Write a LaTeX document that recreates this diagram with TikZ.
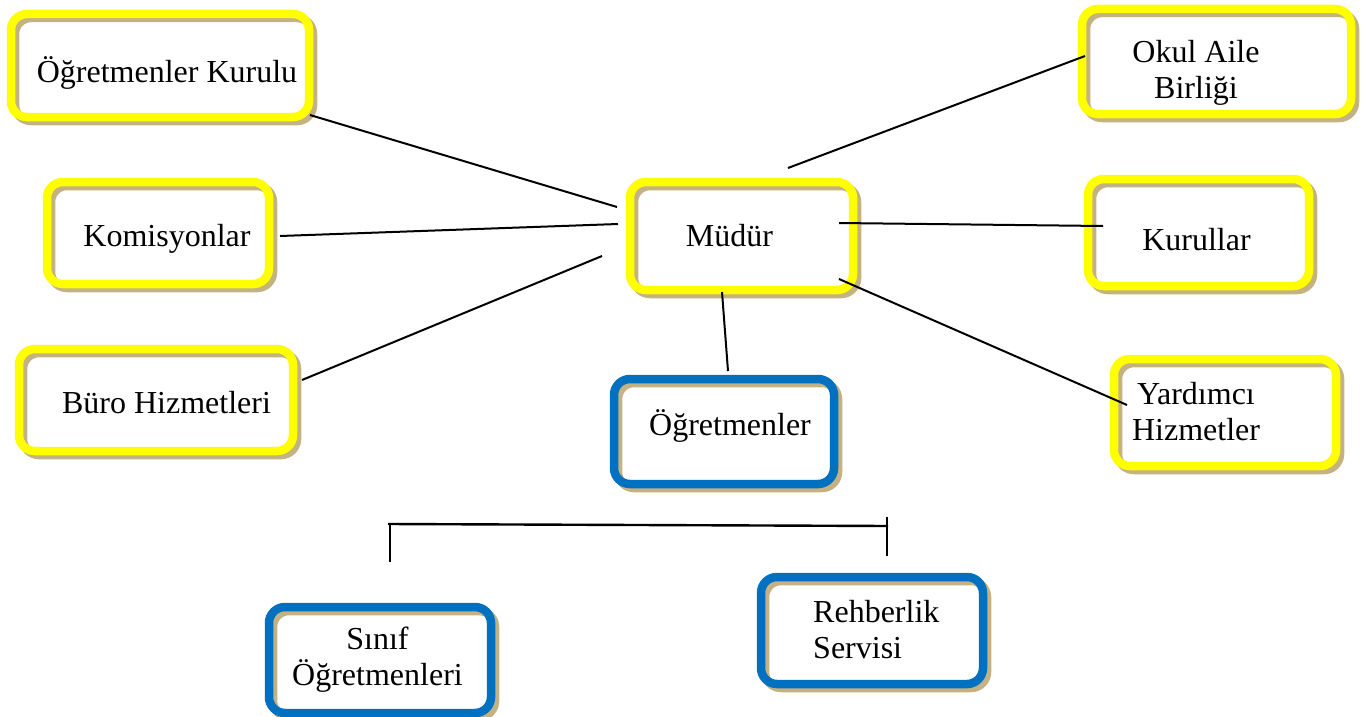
\documentclass[tikz,border=0pt]{standalone}
\usepackage{fontspec}
\setmainfont{Liberation Serif}

\definecolor{boxyellow}{HTML}{FFFF00}
\definecolor{boxblue}{HTML}{0070C0}
\definecolor{shadowtan}{HTML}{C4B283}

\tikzset{
  panel/.style={draw=#1, line width=8.5pt, rounded corners=16pt, inner sep=0pt, outer sep=0pt,
    preaction={draw=shadowtan, line width=8.5pt, transform canvas={shift={(4pt,-4pt)}}}},
  txt/.style={font=\fontsize{32}{36}\selectfont, inner sep=0pt, align=center, anchor=base},
  link/.style={line width=2pt},
}

\begin{document}
\begin{tikzpicture}[x=1pt, y=-1pt]
  \useasboundingbox (0,0) rectangle (1365,717);
  % -=-=-=-=- BOXES -=-=-=-=-
  \node[panel=boxyellow, minimum width=298pt, minimum height=103pt] (kurulu) at (160,65.5) {};
  \node[panel=boxyellow, minimum width=269pt, minimum height=105pt] (oab) at (1216.5,61.5) {};
  \node[panel=boxyellow, minimum width=222pt, minimum height=102pt] (komisyon) at (158,233) {};
  \node[panel=boxyellow, minimum width=223pt, minimum height=108pt] (mudur) at (741.5,236) {};
  \node[panel=boxyellow, minimum width=221pt, minimum height=107pt] (kurullar) at (1198.5,232.5) {};
  \node[panel=boxyellow, minimum width=274pt, minimum height=102pt] (buro) at (156,400) {};
  \node[panel=boxblue, minimum width=220pt, minimum height=105pt] (ogretmen) at (724,431.5) {};
  \node[panel=boxyellow, minimum width=222pt, minimum height=107pt] (yardimci) at (1225,412.5) {};
  \node[panel=boxblue, minimum width=222pt, minimum height=106pt] (sinif) at (380,660) {};
  \node[panel=boxblue, minimum width=222pt, minimum height=107pt] (rehber) at (872,630.5) {};

  % -=-=-=-=- TEXTS -=-=-=-=-
  \node[txt] (kurulu-t) at (167,82) {Öğretmenler Kurulu};
  \node[txt] (oab-t) at (1196,99) {Okul Aile\\Birliği};
  \node[txt] (komisyon-t) at (167,246) {Komisyonlar};
  \node[txt] (mudur-t) at (729.5,246) {Müdür};
  \node[txt] (kurullar-t) at (1196.5,250) {Kurullar};
  \node[txt] (buro-t) at (166.5,413) {Büro Hizmetleri};
  \node[txt] (ogretmen-t) at (730,435) {Öğretmenler};
  \node[txt] (yardimci-t) at (1196,440) {Yardımcı\\Hizmetler};
  \node[txt] (sinif-t) at (377.5,685) {Sınıf\\Öğretmenleri};
  \node[txt, align=left, anchor=base west] (rehber-t) at (813,658) {Rehberlik\\Servisi};

  % -=-=-=-=- LINKS -=-=-=-=-
  \draw[link] ([shift={(1,-2)}]kurulu.south east) -- ([shift={(-13,-29)}]mudur.west);
  \draw[link] ([shift={(11,3)}]komisyon.east) -- ([shift={(-12,-12)}]mudur.west);
  \draw[link] ([shift={(9,-20)}]buro.east) -- ([shift={(-28,20)}]mudur.west);
  \draw[link] ([shift={(46.5,-14)}]mudur.north) -- ([shift={(3,-5.5)}]oab.west);
  \draw[link] ([shift={(-14,-13)}]mudur.east) -- ([shift={(15,-6.5)}]kurullar.west);
  \draw[link] ([shift={(-14,43)}]mudur.east) -- ([shift={(13,-7.5)}]yardimci.west);
  \draw[link] ([shift={(-19.5,2)}]mudur.south) -- ([shift={(4,-8)}]ogretmen.north);

  % -=-=-=-=- BRACKET -=-=-=-=-
  \coordinate (br-l) at (388,524);
  \coordinate (br-r) at (888,526);
  \coordinate (br-ld) at (390,562);
  \coordinate (br-ru) at (887,517);
  \coordinate (br-rd) at (887,556);
  \draw[line width=2.4pt] (br-l) -- (br-r);
  \draw[link] (br-l -| br-ld) -- (br-ld);
  \draw[link] (br-ru) -- (br-rd);
\end{tikzpicture}
\end{document}
